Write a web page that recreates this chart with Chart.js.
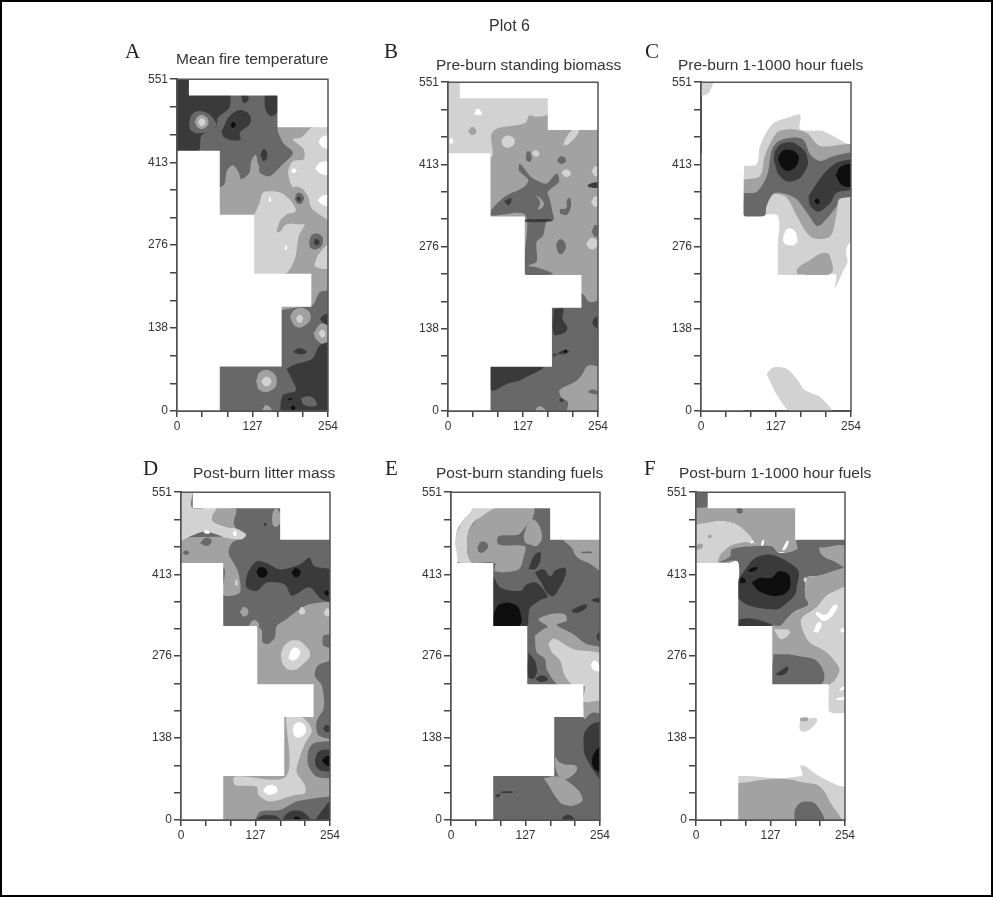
<!DOCTYPE html>
<html>
<head>
<meta charset="utf-8">
<title>Plot 6</title>
<script src="https://cdn.jsdelivr.net/npm/chart.js@4"></script>
<style>
  html, body { margin: 0; padding: 0; background: #fff; }
  #page { position: relative; width: 993px; height: 897px; box-sizing: border-box; border: 2px solid #000; overflow: hidden; }
  #page canvas { position: absolute; filter: blur(0.5px); }
  .txt { position: absolute; white-space: nowrap; font-family: "Liberation Sans", sans-serif; color: #333; font-size: 15.5px; line-height: 16px; filter: blur(0.35px); }
  .letter { font-family: "Liberation Serif", serif; font-size: 21px; line-height: 22px; color: #222; }
</style>
</head>
<body>
<div id="page"></div>
<script>
const xTickValues = [0, 42.3, 84.7, 127, 169.3, 211.7, 254];
const xTickLabels = ["0", "", "", "127", "", "", "254"];
const yTickValues = [0, 45.9, 91.8, 138, 183.7, 229.6, 276, 321.4, 367.3, 413, 459.2, 505.1, 551];
const yTickLabels = ["0", "", "", "138", "", "", "276", "", "", "413", "", "", "551"];

// grey shades of the contour classes, 0 = white
const greys = ["#ffffff", "#d2d2d2", "#a2a2a2", "#686868", "#3a3a3a", "#0e0e0e"];

// cells outside the sampled plot, painted white over every panel
const outside = [
  [0, [20, 560, 260, 560, 260, 471, 169, 471, 169, 524, 20, 524]],
  [0, [-5, 432, 72, 432, 72, -5, -5, -5]],
  [0, [60, 326, 130, 326, 130, 228, 226, 228, 226, 173, 176, 173, 176, 74, 60, 74]]
];

// every panel: [shade, [x, y, x, y ...]] painted back to front, in plot units
const panelA = [
  [3, [-5, -5, 260, -5, 260, 560, -5, 560]],
  [4, [-5, 560, 90, 560, 90, 524, 88, 504, 69, 487, 65, 471, 41, 457, 36, 431, -5, 431]],
  [3, [20, 480, 28, 495, 45, 497, 60, 487, 65, 472, 45, 462, 25, 465]],
  [2, [30, 480, 36, 490, 47, 490, 53, 480, 47, 470, 36, 470]],
  [1, [35, 480, 41, 486, 48, 480, 41, 473]],
  [4, [75, 465, 92, 493, 114, 498, 124, 480, 106, 462, 106, 450, 80, 454]],
  [5, [90, 475, 94, 480, 99, 475, 94, 470]],
  [4, [108, 524, 118, 524, 120, 516, 112, 512]],
  [4, [147, 524, 168, 524, 169, 498, 159, 490, 150, 498]],
  [4, [44, 502, 48, 506, 52, 502, 48, 498]],
  [2, [72, 371, 80, 377, 84, 399, 94, 408, 104, 396, 108, 385, 122, 396, 125, 415, 133, 426, 139, 413, 139, 396, 156, 390, 178, 410, 195, 429, 178, 446, 171, 472, 260, 472, 260, 205, 240, 197, 226, 175, 72, 175]],
  [3, [133, 426, 140, 432, 152, 425, 152, 410, 140, 405]],
  [4, [140, 425, 146, 435, 152, 425, 146, 415]],
  [1, [226, 471, 209, 454, 195, 451, 213, 435, 213, 418, 195, 415, 187, 396, 195, 371, 217, 357, 228, 335, 248, 321, 260, 313, 260, 472]],
  [0, [238, 447, 245, 456, 256, 455, 256, 438, 245, 438]],
  [0, [232, 403, 242, 413, 256, 412, 256, 394, 242, 394]],
  [0, [236, 350, 246, 358, 256, 357, 256, 342, 246, 342]],
  [0, [192, 399, 196, 403, 201, 399, 196, 395]],
  [2, [190, 370, 205, 372, 218, 360, 222, 345, 212, 335, 198, 345]],
  [3, [198, 352, 203, 362, 212, 358, 212, 348, 204, 344]],
  [4, [201, 352, 205, 356, 208, 352, 205, 348]],
  [1, [130, 326, 139, 346, 145, 363, 173, 363, 189, 352, 200, 335, 197, 327, 215, 312, 205, 291, 198, 252, 181, 227, 130, 227]],
  [2, [167, 299, 178, 321, 200, 328, 228, 312, 208, 310, 185, 310, 172, 297]],
  [0, [154, 348, 156, 356, 158, 348]],
  [0, [181, 268, 183, 276, 185, 268]],
  [3, [222, 280, 228, 293, 242, 292, 245, 280, 238, 270, 226, 270]],
  [4, [230, 280, 234, 286, 240, 280, 234, 275]],
  [1, [245, 269, 260, 280, 260, 241, 234, 239, 234, 252]],
  [2, [190, 156, 198, 168, 215, 170, 225, 156, 215, 142, 200, 140]],
  [1, [200, 153, 206, 160, 212, 153, 206, 146]],
  [2, [230, 129, 242, 145, 255, 140, 260, 125, 248, 112, 235, 118]],
  [1, [238, 129, 244, 135, 250, 128, 244, 122]],
  [4, [240, 153, 248, 160, 260, 162, 260, 145, 248, 145]],
  [4, [195, 98, 205, 104, 218, 98, 208, 94]],
  [4, [184, 70, 195, 76, 228, 87, 240, 109, 260, 112, 260, -5, 178, -5, 178, 26, 200, 34, 190, 59]],
  [3, [208, 22, 225, 24, 235, 10, 215, 10]],
  [5, [191, 5, 195, 9, 199, 4, 195, 1]],
  [5, [186, 20, 194, 22, 190, 18]],
  [2, [142, -2, 150, 10, 160, -2]],
  [2, [133, 49, 140, 65, 158, 66, 168, 49, 158, 34, 140, 34]],
  [1, [141, 49, 150, 57, 159, 49, 150, 41]]
];

const panelB = [
  [2, [-5, -5, 260, -5, 260, 560, -5, 560]],
  [1, [-5, 560, 175, 560, 169, 498, 150, 493, 138, 495, 130, 482, 82, 473, 73, 462, 73, 425, -5, 425]],
  [2, [34, 469, 41, 476, 48, 469, 41, 462]],
  [0, [44, 497, 50, 507, 57, 497]],
  [0, [2, 452, 5, 458, 9, 452, 5, 448]],
  [1, [90, 451, 96, 460, 108, 460, 113, 450, 105, 442, 95, 443]],
  [1, [195, 445, 205, 448, 222, 470, 212, 471, 200, 458]],
  [1, [142, 431, 147, 437, 155, 432, 150, 426]],
  [3, [132, 420, 134, 435, 140, 432, 140, 418]],
  [3, [184, 420, 192, 427, 200, 420, 192, 414]],
  [1, [192, 399, 200, 405, 208, 398, 200, 392]],
  [1, [243, 402, 250, 410, 256, 400, 250, 393]],
  [4, [236, 378, 244, 382, 256, 382, 256, 375, 240, 375]],
  [1, [242, 350, 250, 360, 258, 350, 250, 342]],
  [3, [121, 415, 120, 403, 136, 387, 127, 374, 99, 361, 75, 339, 72, 328, 131, 328, 131, 230, 178, 230, 150, 241, 136, 244, 150, 250, 150, 283, 161, 294, 167, 317, 179, 320, 177, 333, 172, 356, 169, 367, 188, 384, 184, 398, 167, 381, 155, 384, 141, 392, 127, 409]],
  [2, [148, 362, 158, 355, 162, 345, 152, 338, 156, 350]],
  [4, [95, 352, 107, 356, 103, 345]],
  [4, [131, 321, 175, 321, 175, 318, 131, 317]],
  [3, [190, 330, 203, 330, 208, 355, 202, 355, 200, 340, 190, 338]],
  [3, [183, 280, 190, 288, 199, 280, 197, 268, 190, 263, 185, 270]],
  [1, [234, 280, 243, 290, 254, 283, 250, 273, 240, 272]],
  [3, [243, 300, 250, 312, 256, 300, 250, 292]],
  [3, [-5, -5, 260, -5, 260, 183, 240, 183, 224, 197, -5, 197]],
  [2, [260, 74, 237, 76, 226, 60, 215, 49, 189, 35, 192, 23, 203, 15, 203, -5, 260, -5]],
  [3, [236, 32, 245, 36, 256, 30, 250, 28]],
  [2, [145, -3, 155, 8, 167, -3]],
  [4, [72, 76, 160, 76, 127, 54, 102, 46, 72, 36]],
  [4, [179, 171, 195, 171, 194, 155, 202, 138, 189, 128, 179, 130]],
  [4, [244, 148, 250, 157, 258, 155, 258, 140, 250, 140]],
  [4, [178, 90, 195, 102, 205, 100, 196, 95, 180, 96]],
  [5, [196, 100, 199, 103, 202, 100, 199, 97]],
  [4, [188, 18, 192, 21, 196, 18, 192, 15]]
];

const panelC = [
  [1, [-5, 560, 20, 560, 17, 540, 8, 530, -5, 532]],
  [1, [73, 411, 94, 413, 100, 444, 120, 480, 145, 491, 168, 496, 168, 472, 207, 469, 250, 447, 260, 447, 260, 299, 246, 271, 248, 249, 241, 235, 227, 207, 227, 229, 130, 229, 130, 327, 73, 327]],
  [2, [73, 388, 100, 394, 108, 427, 128, 466, 151, 472, 179, 466, 202, 444, 260, 444, 260, 366, 235, 355, 230, 333, 219, 293, 187, 291, 162, 327, 151, 349, 142, 360, 123, 363, 111, 344, 107, 327, 73, 327]],
  [3, [73, 365, 95, 368, 112, 395, 120, 438, 131, 452, 151, 458, 173, 455, 185, 430, 202, 419, 224, 427, 260, 430, 260, 363, 233, 355, 230, 344, 207, 316, 196, 310, 179, 333, 162, 355, 146, 363, 123, 365, 111, 344, 107, 327, 73, 327]],
  [4, [123, 420, 128, 440, 145, 450, 165, 445, 180, 425, 175, 400, 155, 385, 135, 392]],
  [4, [182, 360, 205, 394, 230, 416, 260, 419, 260, 374, 230, 366, 219, 349, 199, 334, 185, 344]],
  [5, [130, 422, 137, 435, 148, 438, 162, 432, 165, 420, 155, 405, 140, 405]],
  [5, [228, 395, 238, 410, 258, 410, 258, 380, 240, 378]],
  [5, [192, 352, 197, 356, 201, 350, 196, 347]],
  [0, [140, 295, 146, 305, 157, 303, 163, 290, 160, 280, 148, 278, 140, 283]],
  [2, [163, 229, 163, 238, 185, 253, 208, 265, 219, 258, 218, 229]],
  [1, [111, 62, 122, 73, 145, 71, 162, 54, 176, 35, 202, 23, 222, -3, 154, -3, 131, 23]]
];

const panelD = [
  [3, [-5, -5, 260, -5, 260, 560, -5, 560]],
  [2, [-5, 475, 104, 475, 87, 466, 81, 449, 90, 432, 98, 415, 100, 382, 72, 379, 72, 425, -5, 425]],
  [1, [-5, 560, 19, 560, 19, 525, 61, 525, 53, 505, 67, 496, 92, 491, 111, 480, 104, 472, 78, 474, 61, 480, 39, 485, 16, 477, -5, 470]],
  [2, [61, 525, 92, 525, 90, 499, 92, 491, 67, 496, 53, 505]],
  [2, [155, 505, 158, 520, 165, 522, 170, 505, 165, 494, 158, 494]],
  [4, [141, 497, 143, 500, 146, 497, 143, 494]],
  [3, [32, 465, 42, 474, 52, 470, 45, 461]],
  [3, [3, 449, 8, 453, 14, 449, 8, 446]],
  [0, [38, 484, 44, 487, 49, 483, 44, 481]],
  [0, [88, 481, 92, 486, 95, 480, 91, 477]],
  [1, [92, 395, 94, 405, 97, 395]],
  [4, [110, 402, 115, 418, 129, 435, 146, 432, 169, 421, 203, 430, 219, 441, 227, 427, 260, 418, 260, 368, 240, 371, 219, 391, 189, 377, 177, 396, 146, 399, 129, 385, 112, 391]],
  [5, [128, 417, 135, 425, 146, 420, 145, 410, 135, 408]],
  [5, [188, 416, 196, 423, 204, 416, 196, 408]],
  [5, [244, 382, 248, 386, 252, 380, 248, 377]],
  [2, [130, 326, 138, 318, 139, 299, 149, 296, 160, 307, 163, 326, 180, 338, 197, 351, 220, 363, 260, 363, 260, 315, 243, 310, 243, 293, 260, 287, 260, 271, 234, 260, 228, 243, 240, 226, 243, 187, 226, 173, 130, 173]],
  [2, [115, 326, 125, 336, 133, 326]],
  [2, [100, 350, 108, 358, 115, 350, 108, 342]],
  [1, [200, 350, 206, 358, 212, 350, 206, 345]],
  [1, [243, 348, 249, 356, 256, 348, 249, 342]],
  [1, [170, 279, 178, 295, 196, 302, 212, 293, 220, 278, 208, 262, 190, 252, 175, 260]],
  [0, [183, 272, 190, 288, 200, 288, 203, 280, 192, 268]],
  [2, [72, 175, 226, 175, 243, 187, 231, 165, 234, 143, 260, 134, 226, 129, 217, 115, 217, 92, 231, 73, 260, 67, 260, 43, 231, 37, 197, 31, 169, 17, 135, 14, 121, -5, 72, -5]],
  [1, [179, 173, 206, 173, 223, 151, 212, 130, 204, 110, 197, 81, 211, 59, 211, 45, 194, 42, 152, 31, 132, 42, 129, 56, 92, 59, 92, 73, 179, 73]],
  [4, [228, 100, 235, 115, 250, 118, 260, 115, 260, 85, 245, 82, 232, 88]],
  [5, [240, 100, 248, 107, 260, 105, 260, 92, 248, 92]],
  [4, [242, 154, 248, 160, 256, 152, 248, 148]],
  [4, [125, -5, 135, 6, 150, 8, 165, 5, 170, -5]],
  [4, [172, -5, 180, 10, 197, 16, 215, 8, 220, -5]],
  [5, [188, -5, 197, 6, 208, -5]],
  [4, [225, -5, 240, 15, 255, 33, 260, 33, 260, -5]],
  [0, [140, 50, 148, 58, 160, 57, 164, 48, 155, 43, 145, 44]],
  [0, [190, 150, 195, 162, 208, 162, 213, 150, 205, 140, 195, 140]]
];

const panelE = [
  [3, [-5, -5, 260, -5, 260, 560, -5, 560]],
  [1, [9, 433, 9, 480, 22, 505, 36, 524, 78, 525, 67, 507, 44, 505, 30, 485, 28, 449, 36, 433]],
  [2, [44, 505, 78, 525, 141, 525, 138, 505, 129, 496, 115, 480, 81, 477, 81, 463, 126, 460, 124, 443, 115, 421, 75, 418, 75, 432, 36, 433, 28, 449, 30, 485]],
  [2, [129, 496, 141, 505, 155, 480, 148, 462, 138, 462, 125, 470]],
  [3, [45, 458, 52, 468, 63, 463, 58, 452, 48, 450]],
  [2, [190, 471, 260, 471, 260, 421, 234, 432, 214, 443, 206, 457]],
  [3, [222, 451, 240, 451, 240, 449, 222, 449]],
  [4, [132, 421, 143, 446, 153, 449, 146, 424]],
  [4, [143, 416, 158, 421, 169, 410, 180, 421, 196, 421, 180, 382, 169, 377, 152, 402]],
  [4, [72, 410, 84, 391, 118, 385, 129, 396, 146, 399, 165, 375, 155, 371, 135, 357, 132, 343, 129, 326, 72, 326]],
  [5, [72, 343, 75, 352, 84, 363, 107, 363, 118, 349, 115, 326, 72, 326]],
  [4, [205, 352, 220, 360, 232, 362, 225, 352, 210, 348]],
  [4, [238, 370, 250, 373, 260, 374, 260, 366, 248, 366]],
  [4, [248, 310, 255, 318, 260, 318, 260, 300, 250, 303]],
  [4, [132, 282, 145, 262, 143, 240, 132, 240]],
  [4, [143, 237, 155, 243, 165, 237, 155, 232]],
  [2, [143, 310, 158, 321, 165, 325, 149, 337, 169, 346, 194, 346, 197, 335, 180, 328, 209, 312, 231, 296, 260, 287, 260, 220, 227, 226, 197, 226, 180, 229, 163, 254, 160, 271, 146, 282]],
  [1, [166, 296, 175, 305, 209, 287, 260, 276, 260, 198, 227, 198, 227, 226, 209, 226, 194, 243, 186, 268, 172, 282]],
  [0, [238, 262, 245, 268, 255, 258, 260, 248, 250, 250, 243, 252]],
  [2, [227, 198, 260, 198, 260, 180, 240, 180, 227, 170]],
  [4, [260, 168, 234, 156, 226, 131, 234, 98, 260, 70]],
  [5, [240, 100, 244, 112, 252, 122, 260, 125, 260, 80, 250, 82, 242, 90]],
  [2, [158, 70, 180, 73, 203, 62, 224, 37, 214, 26, 192, 26, 180, 37, 166, 59]],
  [2, [177, 106, 189, 95, 214, 90, 205, 73, 189, 70, 180, 81]],
  [4, [188, -3, 192, 6, 203, 8, 212, -3]],
  [4, [75, 42, 84, 44, 80, 38]],
  [4, [85, 48, 105, 48, 105, 46, 85, 46]],
  [0, [-5, 560, 36, 560, 36, 524, 22, 505, 9, 480, 9, 425, -5, 425]]
];

const panelF = [
  [3, [-5, 560, 19, 560, 19, 525, -5, 525]],
  [2, [-5, 525, 172, 525, 172, 455, 141, 450, 129, 460, 98, 466, 92, 477, 70, 496, 41, 502, -5, 496]],
  [3, [70, 516, 78, 516, 78, 525, 70, 525]],
  [1, [-5, 496, 41, 502, 70, 496, 92, 477, 98, 465, 75, 466, 47, 452, 36, 433, -5, 433]],
  [2, [36, 433, 47, 452, 75, 466, 100, 465, 129, 460, 141, 449, 100, 450, 60, 433]],
  [2, [-5, 460, 10, 464, 10, 457, -5, 455]],
  [2, [20, 477, 24, 480, 27, 476, 22, 474]],
  [0, [110, 458, 113, 470, 116, 470, 113, 458]],
  [0, [147, 455, 156, 470, 158, 466, 150, 453]],
  [0, [92, 466, 95, 470, 99, 468, 95, 465]],
  [3, [39, 433, 58, 443, 61, 455, 95, 460, 129, 460, 141, 449, 172, 455, 172, 471, 260, 471, 260, 421, 206, 410, 189, 407, 186, 377, 192, 362, 169, 351, 155, 338, 143, 326, 72, 326, 72, 433]],
  [2, [209, 458, 260, 458, 260, 425, 235, 435, 215, 445]],
  [2, [254, 425, 260, 425, 260, 396, 223, 377, 206, 357, 180, 338, 183, 318, 194, 299, 223, 282, 245, 254, 237, 235, 227, 226, 130, 226, 130, 326, 143, 326, 155, 338, 169, 351, 192, 362, 186, 377, 189, 407, 206, 410]],
  [1, [260, 396, 223, 377, 206, 357, 180, 338, 183, 318, 194, 299, 223, 282, 245, 254, 237, 235, 227, 226, 227, 183, 260, 186]],
  [1, [132, 321, 160, 318, 146, 304]],
  [0, [204, 345, 220, 335, 242, 358, 236, 362, 220, 345, 206, 350]],
  [0, [200, 316, 208, 316, 214, 330, 208, 332]],
  [0, [246, 319, 250, 323, 253, 318, 249, 315]],
  [0, [243, 216, 250, 224, 256, 222, 248, 218]],
  [0, [240, 205, 254, 207, 254, 203, 240, 202]],
  [1, [183, 404, 186, 408, 189, 404, 186, 400]],
  [4, [72, 404, 84, 421, 101, 441, 129, 446, 160, 432, 175, 418, 172, 393, 169, 379, 155, 365, 138, 354, 92, 360, 72, 374]],
  [5, [95, 399, 109, 407, 129, 407, 141, 418, 158, 413, 160, 390, 149, 379, 129, 377, 107, 385]],
  [5, [88, 420, 100, 425, 105, 423, 95, 417]],
  [5, [75, 398, 85, 400, 78, 408]],
  [4, [74, 338, 100, 338, 129, 326, 74, 326]],
  [3, [132, 279, 172, 276, 211, 262, 211, 227, 132, 227]],
  [4, [135, 245, 146, 252, 156, 258, 156, 250, 145, 243]],
  [1, [177, 168, 206, 170, 192, 151, 178, 151]],
  [2, [178, 172, 190, 172, 190, 167, 178, 167]],
  [1, [72, 74, 179, 74, 179, 92, 211, 73, 240, 59, 260, 50, 260, -5, 72, -5]],
  [2, [72, 62, 143, 69, 189, 62, 211, 56, 228, 31, 243, -5, 72, -5]],
  [3, [167, -5, 172, 23, 192, 31, 209, 20, 216, -5]]
];

// layout of the six panels on the page
const panels = [
  { letter: "A", title: "Mean fire temperature", layers: panelA, plot: [177, 78, 151, 333], titleAt: [176, 51], letterAt: [125, 40] },
  { letter: "B", title: "Pre-burn standing biomass", layers: panelB, plot: [448, 81, 150, 330], titleAt: [436, 57], letterAt: [384, 40] },
  { letter: "C", title: "Pre-burn 1-1000 hour fuels", layers: panelC, plot: [701, 81, 150, 330], titleAt: [678, 57], letterAt: [645, 40] },
  { letter: "D", title: "Post-burn litter mass", layers: panelD, plot: [181, 491, 149, 329], titleAt: [193, 465], letterAt: [143, 457] },
  { letter: "E", title: "Post-burn standing fuels", layers: panelE, plot: [451, 491, 149, 329], titleAt: [436, 465], letterAt: [385, 457] },
  { letter: "F", title: "Post-burn 1-1000 hour fuels", layers: panelF, plot: [696, 491, 149, 329], titleAt: [679, 465], letterAt: [644, 457] }
];

const page = document.getElementById("page");

function addText(text, cls, x, y) {
  const el = document.createElement("div");
  el.className = cls;
  el.textContent = text;
  el.style.left = x - 2 + "px"; // page has a 2px border
  el.style.top = y - 2 + "px";
  page.appendChild(el);
  return el;
}

function toPoints(flat) {
  const pts = [];
  for (let i = 0; i < flat.length; i += 2) pts.push({ x: flat[i], y: flat[i + 1] });
  pts.push({ x: flat[0], y: flat[1] }); // close the shape
  return pts;
}

// small blobs get rounder, the big rectangles stay square
function curveFor(flat) {
  if (flat.length === 8 && Math.abs(flat[0] - flat[4]) > 200) return 0;
  return flat.length <= 16 ? 0.5 : 0.3;
}

const marginLeft = 45, marginTop = 8, marginRight = 18, marginBottom = 26;

function drawPanel(p) {
  const [left, top, w, h] = p.plot;
  const canvas = document.createElement("canvas");
  canvas.width = w + marginLeft + marginRight;
  canvas.height = h + marginTop + marginBottom;
  canvas.style.left = left - marginLeft - 2 + "px";
  canvas.style.top = top - marginTop - 2 + "px";
  page.appendChild(canvas);

  const shapes = p.layers.concat(outside);
  const datasets = shapes.map(([shade, flat], i) => ({
    data: toPoints(flat),
    showLine: true,
    fill: "shape",
    backgroundColor: greys[shade],
    borderWidth: 0,
    pointRadius: 0,
    tension: i >= p.layers.length ? 0 : curveFor(flat),
    order: shapes.length - i + 1 // later shapes paint on top
  }));
  // thin frame round the plot
  datasets.push({
    data: toPoints([0, 0, 254, 0, 254, 551, 0, 551]),
    showLine: true,
    fill: false,
    borderColor: "#555",
    borderWidth: 1.5,
    pointRadius: 0,
    clip: false,
    order: 0
  });

  new Chart(canvas, {
    type: "scatter",
    data: { datasets },
    options: {
      responsive: false,
      animation: false,
      layout: { padding: { top: marginTop, right: marginRight, left: 0, bottom: 0 } },
      plugins: { legend: { display: false }, tooltip: { enabled: false } },
      scales: {
        x: {
          type: "linear",
          min: 0,
          max: 254,
          afterBuildTicks: (s) => { s.ticks = xTickValues.map((v) => ({ value: v })); },
          afterFit: (s) => { s.height = marginBottom; },
          border: { color: "#444", width: 2 },
          grid: { drawOnChartArea: false, color: "#444", tickLength: 6, lineWidth: 1.5 },
          ticks: {
            autoSkip: false,
            maxRotation: 0,
            padding: 2,
            color: "#333",
            font: { family: "Liberation Sans", size: 12 },
            callback: (v, i) => xTickLabels[i]
          }
        },
        y: {
          type: "linear",
          min: 0,
          max: 551,
          afterBuildTicks: (s) => { s.ticks = yTickValues.map((v) => ({ value: v })); },
          afterFit: (s) => { s.width = marginLeft; },
          border: { color: "#444", width: 2 },
          grid: { drawOnChartArea: false, color: "#444", tickLength: 7, lineWidth: 1.5 },
          ticks: {
            autoSkip: false,
            padding: 2,
            color: "#333",
            font: { family: "Liberation Sans", size: 12 },
            callback: (v, i) => yTickLabels[i]
          }
        }
      }
    }
  });

  addText(p.title, "txt", p.titleAt[0], p.titleAt[1]);
  addText(p.letter, "txt letter", p.letterAt[0], p.letterAt[1]);
}

panels.forEach(drawPanel);

const heading = addText("Plot 6", "txt", 489, 17);
heading.style.fontSize = "16px";
heading.style.lineHeight = "18px";
</script>
</body>
</html>
